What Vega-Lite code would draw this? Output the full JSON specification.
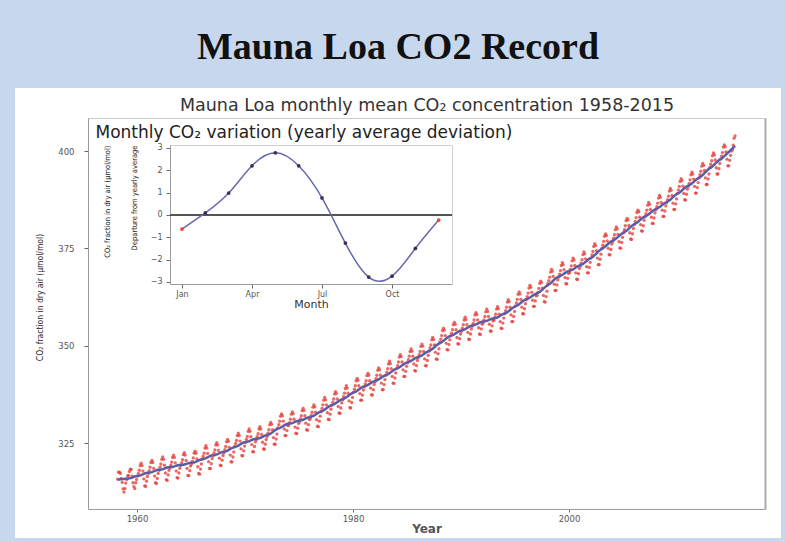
{
"$schema":"https://vega.github.io/schema/vega-lite/v6.json",
"width":766,"height":450,
"autosize":{"type":"none"},
"padding":{"left":15,"top":88,"right":4,"bottom":4},
"background":"#c7d8ee",
"title":{"text":"Mauna Loa CO2 Record","font":"Liberation Serif","fontSize":38,"fontWeight":"bold","color":"#111111","anchor":"middle","frame":"group","offset":21},
"config":{
 "view":{"fill":"#ffffff","stroke":null},
 "axis":{"grid":false,"labelFont":"DejaVu Sans","labelFontSize":8.5,"labelColor":"#555555","tickColor":"#666666","tickSize":4,"domainColor":"#9a9a9a","titleFont":"DejaVu Sans","titleColor":"#333333","titleFontWeight":"normal"}
},
"layer":[
 {
  "data":{"values":[
{"t":1958.21,"c":315.7},{"t":1958.29,"c":317.5},{"t":1958.38,"c":317.5},{"t":1958.46,"c":317.2},{"t":1958.54,"c":315.9},{"t":1958.63,"c":314.9},{"t":1958.71,"c":313.2},{"t":1958.79,"c":312.4},{"t":1958.88,"c":313.3},{"t":1958.96,"c":314.7},
{"t":1959.04,"c":315.6},{"t":1959.13,"c":316.5},{"t":1959.21,"c":316.7},{"t":1959.29,"c":317.7},{"t":1959.38,"c":318.3},{"t":1959.46,"c":318.2},{"t":1959.54,"c":316.5},{"t":1959.63,"c":314.8},{"t":1959.71,"c":313.8},{"t":1959.79,"c":313.3},{"t":1959.88,"c":314.8},{"t":1959.96,"c":315.6},
{"t":1960.04,"c":316.5},{"t":1960.13,"c":317.2},{"t":1960.21,"c":318.0},{"t":1960.29,"c":319.2},{"t":1960.38,"c":319.8},{"t":1960.46,"c":319.2},{"t":1960.54,"c":317.8},{"t":1960.63,"c":315.8},{"t":1960.71,"c":314.0},{"t":1960.79,"c":313.9},{"t":1960.88,"c":315.2},{"t":1960.96,"c":316.4},
{"t":1961.04,"c":317.2},{"t":1961.13,"c":317.9},{"t":1961.21,"c":318.8},{"t":1961.29,"c":320.0},{"t":1961.38,"c":320.5},{"t":1961.46,"c":320.0},{"t":1961.54,"c":318.5},{"t":1961.63,"c":316.5},{"t":1961.71,"c":314.8},{"t":1961.79,"c":314.6},{"t":1961.88,"c":315.9},{"t":1961.96,"c":317.2},
{"t":1962.04,"c":318.0},{"t":1962.13,"c":318.8},{"t":1962.21,"c":319.6},{"t":1962.29,"c":320.8},{"t":1962.38,"c":321.4},{"t":1962.46,"c":320.8},{"t":1962.54,"c":319.3},{"t":1962.63,"c":317.3},{"t":1962.71,"c":315.6},{"t":1962.79,"c":315.4},{"t":1962.88,"c":316.8},{"t":1962.96,"c":318.0},
{"t":1963.04,"c":318.6},{"t":1963.13,"c":319.3},{"t":1963.21,"c":320.1},{"t":1963.29,"c":321.3},{"t":1963.38,"c":321.9},{"t":1963.46,"c":321.3},{"t":1963.54,"c":319.9},{"t":1963.63,"c":317.8},{"t":1963.71,"c":316.1},{"t":1963.79,"c":316.0},{"t":1963.88,"c":317.3},{"t":1963.96,"c":318.5},
{"t":1964.04,"c":319.2},{"t":1964.13,"c":319.9},{"t":1964.21,"c":320.7},{"t":1964.29,"c":322.0},{"t":1964.38,"c":322.5},{"t":1964.46,"c":321.9},{"t":1964.54,"c":320.5},{"t":1964.63,"c":318.5},{"t":1964.71,"c":316.7},{"t":1964.79,"c":316.6},{"t":1964.88,"c":317.9},{"t":1964.96,"c":319.1},
{"t":1965.04,"c":319.6},{"t":1965.13,"c":320.3},{"t":1965.21,"c":321.2},{"t":1965.29,"c":322.4},{"t":1965.38,"c":322.9},{"t":1965.46,"c":322.4},{"t":1965.54,"c":320.9},{"t":1965.63,"c":318.9},{"t":1965.71,"c":317.2},{"t":1965.79,"c":317.0},{"t":1965.88,"c":318.3},{"t":1965.96,"c":319.6},
{"t":1966.04,"c":320.9},{"t":1966.13,"c":321.6},{"t":1966.21,"c":322.4},{"t":1966.29,"c":323.7},{"t":1966.38,"c":324.3},{"t":1966.46,"c":323.7},{"t":1966.54,"c":322.3},{"t":1966.63,"c":320.2},{"t":1966.71,"c":318.5},{"t":1966.79,"c":318.4},{"t":1966.88,"c":319.7},{"t":1966.96,"c":321.0},
{"t":1967.04,"c":321.7},{"t":1967.13,"c":322.4},{"t":1967.21,"c":323.2},{"t":1967.29,"c":324.5},{"t":1967.38,"c":325.1},{"t":1967.46,"c":324.5},{"t":1967.54,"c":323.1},{"t":1967.63,"c":321.1},{"t":1967.71,"c":319.3},{"t":1967.79,"c":319.2},{"t":1967.88,"c":320.6},{"t":1967.96,"c":321.8},
{"t":1968.04,"c":322.5},{"t":1968.13,"c":323.3},{"t":1968.21,"c":324.1},{"t":1968.29,"c":325.3},{"t":1968.38,"c":325.9},{"t":1968.46,"c":325.4},{"t":1968.54,"c":323.9},{"t":1968.63,"c":321.9},{"t":1968.71,"c":320.2},{"t":1968.79,"c":320.1},{"t":1968.88,"c":321.4},{"t":1968.96,"c":322.7},
{"t":1969.04,"c":324.1},{"t":1969.13,"c":324.9},{"t":1969.21,"c":325.7},{"t":1969.29,"c":326.9},{"t":1969.38,"c":327.5},{"t":1969.46,"c":326.9},{"t":1969.54,"c":325.5},{"t":1969.63,"c":323.5},{"t":1969.71,"c":321.8},{"t":1969.79,"c":321.7},{"t":1969.88,"c":323.0},{"t":1969.96,"c":324.2},
{"t":1970.04,"c":325.2},{"t":1970.13,"c":325.9},{"t":1970.21,"c":326.7},{"t":1970.29,"c":328.0},{"t":1970.38,"c":328.6},{"t":1970.46,"c":328.0},{"t":1970.54,"c":326.6},{"t":1970.63,"c":324.6},{"t":1970.71,"c":322.8},{"t":1970.79,"c":322.7},{"t":1970.88,"c":324.1},{"t":1970.96,"c":325.3},
{"t":1971.04,"c":325.8},{"t":1971.13,"c":326.6},{"t":1971.21,"c":327.4},{"t":1971.29,"c":328.6},{"t":1971.38,"c":329.2},{"t":1971.46,"c":328.6},{"t":1971.54,"c":327.2},{"t":1971.63,"c":325.2},{"t":1971.71,"c":323.5},{"t":1971.79,"c":323.4},{"t":1971.88,"c":324.7},{"t":1971.96,"c":325.9},
{"t":1972.04,"c":326.7},{"t":1972.13,"c":327.5},{"t":1972.21,"c":328.4},{"t":1972.29,"c":329.7},{"t":1972.38,"c":330.3},{"t":1972.46,"c":329.8},{"t":1972.54,"c":328.4},{"t":1972.63,"c":326.4},{"t":1972.71,"c":324.7},{"t":1972.79,"c":324.7},{"t":1972.88,"c":326.0},{"t":1972.96,"c":327.3},
{"t":1973.04,"c":328.9},{"t":1973.13,"c":329.7},{"t":1973.21,"c":330.6},{"t":1973.29,"c":331.9},{"t":1973.38,"c":332.5},{"t":1973.46,"c":332.0},{"t":1973.54,"c":330.6},{"t":1973.63,"c":328.6},{"t":1973.71,"c":326.9},{"t":1973.79,"c":326.9},{"t":1973.88,"c":328.2},{"t":1973.96,"c":329.5},
{"t":1974.04,"c":329.5},{"t":1974.13,"c":330.2},{"t":1974.21,"c":331.1},{"t":1974.29,"c":332.4},{"t":1974.38,"c":333.0},{"t":1974.46,"c":332.5},{"t":1974.54,"c":331.1},{"t":1974.63,"c":329.1},{"t":1974.71,"c":327.5},{"t":1974.79,"c":327.4},{"t":1974.88,"c":328.8},{"t":1974.96,"c":330.0},
{"t":1975.04,"c":330.4},{"t":1975.13,"c":331.2},{"t":1975.21,"c":332.0},{"t":1975.29,"c":333.3},{"t":1975.38,"c":333.9},{"t":1975.46,"c":333.4},{"t":1975.54,"c":332.0},{"t":1975.63,"c":330.1},{"t":1975.71,"c":328.4},{"t":1975.79,"c":328.3},{"t":1975.88,"c":329.7},{"t":1975.96,"c":331.0},
{"t":1976.04,"c":331.3},{"t":1976.13,"c":332.1},{"t":1976.21,"c":332.9},{"t":1976.29,"c":334.2},{"t":1976.38,"c":334.8},{"t":1976.46,"c":334.3},{"t":1976.54,"c":332.9},{"t":1976.63,"c":331.0},{"t":1976.71,"c":329.3},{"t":1976.79,"c":329.2},{"t":1976.88,"c":330.6},{"t":1976.96,"c":331.9},
{"t":1977.04,"c":333.1},{"t":1977.13,"c":333.9},{"t":1977.21,"c":334.8},{"t":1977.29,"c":336.0},{"t":1977.38,"c":336.7},{"t":1977.46,"c":336.1},{"t":1977.54,"c":334.8},{"t":1977.63,"c":332.8},{"t":1977.71,"c":331.1},{"t":1977.79,"c":331.0},{"t":1977.88,"c":332.4},{"t":1977.96,"c":333.7},
{"t":1978.04,"c":334.7},{"t":1978.13,"c":335.5},{"t":1978.21,"c":336.3},{"t":1978.29,"c":337.6},{"t":1978.38,"c":338.2},{"t":1978.46,"c":337.7},{"t":1978.54,"c":336.3},{"t":1978.63,"c":334.4},{"t":1978.71,"c":332.7},{"t":1978.79,"c":332.6},{"t":1978.88,"c":334.0},{"t":1978.96,"c":335.3},
{"t":1979.04,"c":336.1},{"t":1979.13,"c":336.9},{"t":1979.21,"c":337.8},{"t":1979.29,"c":339.0},{"t":1979.38,"c":339.7},{"t":1979.46,"c":339.1},{"t":1979.54,"c":337.8},{"t":1979.63,"c":335.8},{"t":1979.71,"c":334.1},{"t":1979.79,"c":334.0},{"t":1979.88,"c":335.4},{"t":1979.96,"c":336.7},
{"t":1980.04,"c":338.0},{"t":1980.13,"c":338.8},{"t":1980.21,"c":339.7},{"t":1980.29,"c":341.0},{"t":1980.38,"c":341.6},{"t":1980.46,"c":341.1},{"t":1980.54,"c":339.7},{"t":1980.63,"c":337.7},{"t":1980.71,"c":336.0},{"t":1980.79,"c":336.0},{"t":1980.88,"c":337.3},{"t":1980.96,"c":338.6},
{"t":1981.04,"c":339.4},{"t":1981.13,"c":340.2},{"t":1981.21,"c":341.0},{"t":1981.29,"c":342.3},{"t":1981.38,"c":342.9},{"t":1981.46,"c":342.4},{"t":1981.54,"c":341.0},{"t":1981.63,"c":339.1},{"t":1981.71,"c":337.4},{"t":1981.79,"c":337.3},{"t":1981.88,"c":338.7},{"t":1981.96,"c":340.0},
{"t":1982.04,"c":340.7},{"t":1982.13,"c":341.5},{"t":1982.21,"c":342.4},{"t":1982.29,"c":343.7},{"t":1982.38,"c":344.3},{"t":1982.46,"c":343.8},{"t":1982.54,"c":342.4},{"t":1982.63,"c":340.4},{"t":1982.71,"c":338.7},{"t":1982.79,"c":338.7},{"t":1982.88,"c":340.0},{"t":1982.96,"c":341.3},
{"t":1983.04,"c":342.4},{"t":1983.13,"c":343.2},{"t":1983.21,"c":344.1},{"t":1983.29,"c":345.3},{"t":1983.38,"c":346.0},{"t":1983.46,"c":345.4},{"t":1983.54,"c":344.1},{"t":1983.63,"c":342.1},{"t":1983.71,"c":340.4},{"t":1983.79,"c":340.3},{"t":1983.88,"c":341.7},{"t":1983.96,"c":343.0},
{"t":1984.04,"c":344.1},{"t":1984.13,"c":344.9},{"t":1984.21,"c":345.8},{"t":1984.29,"c":347.1},{"t":1984.38,"c":347.7},{"t":1984.46,"c":347.2},{"t":1984.54,"c":345.8},{"t":1984.63,"c":343.8},{"t":1984.71,"c":342.1},{"t":1984.79,"c":342.1},{"t":1984.88,"c":343.4},{"t":1984.96,"c":344.7},
{"t":1985.04,"c":345.6},{"t":1985.13,"c":346.4},{"t":1985.21,"c":347.3},{"t":1985.29,"c":348.5},{"t":1985.38,"c":349.2},{"t":1985.46,"c":348.6},{"t":1985.54,"c":347.3},{"t":1985.63,"c":345.3},{"t":1985.71,"c":343.6},{"t":1985.79,"c":343.5},{"t":1985.88,"c":344.9},{"t":1985.96,"c":346.2},
{"t":1986.04,"c":346.9},{"t":1986.13,"c":347.7},{"t":1986.21,"c":348.5},{"t":1986.29,"c":349.8},{"t":1986.38,"c":350.4},{"t":1986.46,"c":349.9},{"t":1986.54,"c":348.5},{"t":1986.63,"c":346.6},{"t":1986.71,"c":344.9},{"t":1986.79,"c":344.8},{"t":1986.88,"c":346.2},{"t":1986.96,"c":347.5},
{"t":1987.04,"c":348.6},{"t":1987.13,"c":349.4},{"t":1987.21,"c":350.2},{"t":1987.29,"c":351.5},{"t":1987.38,"c":352.1},{"t":1987.46,"c":351.6},{"t":1987.54,"c":350.2},{"t":1987.63,"c":348.3},{"t":1987.71,"c":346.6},{"t":1987.79,"c":346.5},{"t":1987.88,"c":347.9},{"t":1987.96,"c":349.2},
{"t":1988.04,"c":351.0},{"t":1988.13,"c":351.7},{"t":1988.21,"c":352.6},{"t":1988.29,"c":353.9},{"t":1988.38,"c":354.5},{"t":1988.46,"c":354.0},{"t":1988.54,"c":352.6},{"t":1988.63,"c":350.6},{"t":1988.71,"c":349.0},{"t":1988.79,"c":348.9},{"t":1988.88,"c":350.3},{"t":1988.96,"c":351.5},
{"t":1989.04,"c":352.5},{"t":1989.13,"c":353.2},{"t":1989.21,"c":354.1},{"t":1989.29,"c":355.4},{"t":1989.38,"c":356.0},{"t":1989.46,"c":355.5},{"t":1989.54,"c":354.1},{"t":1989.63,"c":352.1},{"t":1989.71,"c":350.5},{"t":1989.79,"c":350.4},{"t":1989.88,"c":351.8},{"t":1989.96,"c":353.0},
{"t":1990.04,"c":353.7},{"t":1990.13,"c":354.5},{"t":1990.21,"c":355.4},{"t":1990.29,"c":356.6},{"t":1990.38,"c":357.3},{"t":1990.46,"c":356.7},{"t":1990.54,"c":355.4},{"t":1990.63,"c":353.4},{"t":1990.71,"c":351.7},{"t":1990.79,"c":351.6},{"t":1990.88,"c":353.0},{"t":1990.96,"c":354.3},
{"t":1991.04,"c":355.0},{"t":1991.13,"c":355.7},{"t":1991.21,"c":356.6},{"t":1991.29,"c":357.9},{"t":1991.38,"c":358.5},{"t":1991.46,"c":358.0},{"t":1991.54,"c":356.6},{"t":1991.63,"c":354.6},{"t":1991.71,"c":353.0},{"t":1991.79,"c":352.9},{"t":1991.88,"c":354.3},{"t":1991.96,"c":355.5},
{"t":1992.04,"c":355.8},{"t":1992.13,"c":356.6},{"t":1992.21,"c":357.5},{"t":1992.29,"c":358.7},{"t":1992.38,"c":359.4},{"t":1992.46,"c":358.8},{"t":1992.54,"c":357.5},{"t":1992.63,"c":355.5},{"t":1992.71,"c":353.8},{"t":1992.79,"c":353.7},{"t":1992.88,"c":355.1},{"t":1992.96,"c":356.4},
{"t":1993.04,"c":356.5},{"t":1993.13,"c":357.3},{"t":1993.21,"c":358.1},{"t":1993.29,"c":359.4},{"t":1993.38,"c":360.0},{"t":1993.46,"c":359.5},{"t":1993.54,"c":358.1},{"t":1993.63,"c":356.2},{"t":1993.71,"c":354.5},{"t":1993.79,"c":354.4},{"t":1993.88,"c":355.8},{"t":1993.96,"c":357.1},
{"t":1994.04,"c":358.2},{"t":1994.13,"c":359.0},{"t":1994.21,"c":359.9},{"t":1994.29,"c":361.2},{"t":1994.38,"c":361.8},{"t":1994.46,"c":361.3},{"t":1994.54,"c":359.9},{"t":1994.63,"c":357.9},{"t":1994.71,"c":356.2},{"t":1994.79,"c":356.2},{"t":1994.88,"c":357.5},{"t":1994.96,"c":358.8},
{"t":1995.04,"c":360.2},{"t":1995.13,"c":361.0},{"t":1995.21,"c":361.9},{"t":1995.29,"c":363.2},{"t":1995.38,"c":363.8},{"t":1995.46,"c":363.3},{"t":1995.54,"c":361.9},{"t":1995.63,"c":359.9},{"t":1995.71,"c":358.2},{"t":1995.79,"c":358.2},{"t":1995.88,"c":359.5},{"t":1995.96,"c":360.8},
{"t":1996.04,"c":361.8},{"t":1996.13,"c":362.6},{"t":1996.21,"c":363.5},{"t":1996.29,"c":364.8},{"t":1996.38,"c":365.5},{"t":1996.46,"c":365.0},{"t":1996.54,"c":363.7},{"t":1996.63,"c":361.7},{"t":1996.71,"c":360.1},{"t":1996.79,"c":360.1},{"t":1996.88,"c":361.5},{"t":1996.96,"c":362.8},
{"t":1997.04,"c":362.9},{"t":1997.13,"c":363.7},{"t":1997.21,"c":364.7},{"t":1997.29,"c":366.0},{"t":1997.38,"c":366.6},{"t":1997.46,"c":366.2},{"t":1997.54,"c":364.8},{"t":1997.63,"c":362.9},{"t":1997.71,"c":361.3},{"t":1997.79,"c":361.2},{"t":1997.88,"c":362.6},{"t":1997.96,"c":364.0},
{"t":1998.04,"c":365.9},{"t":1998.13,"c":366.7},{"t":1998.21,"c":367.6},{"t":1998.29,"c":368.9},{"t":1998.38,"c":369.6},{"t":1998.46,"c":369.1},{"t":1998.54,"c":367.8},{"t":1998.63,"c":365.8},{"t":1998.71,"c":364.2},{"t":1998.79,"c":364.2},{"t":1998.88,"c":365.6},{"t":1998.96,"c":366.9},
{"t":1999.04,"c":367.6},{"t":1999.13,"c":368.4},{"t":1999.21,"c":369.3},{"t":1999.29,"c":370.6},{"t":1999.38,"c":371.3},{"t":1999.46,"c":370.8},{"t":1999.54,"c":369.5},{"t":1999.63,"c":367.5},{"t":1999.71,"c":365.9},{"t":1999.79,"c":365.9},{"t":1999.88,"c":367.3},{"t":1999.96,"c":368.6},
{"t":2000.04,"c":368.7},{"t":2000.13,"c":369.6},{"t":2000.21,"c":370.5},{"t":2000.29,"c":371.8},{"t":2000.38,"c":372.5},{"t":2000.46,"c":372.0},{"t":2000.54,"c":370.6},{"t":2000.63,"c":368.7},{"t":2000.71,"c":367.1},{"t":2000.79,"c":367.0},{"t":2000.88,"c":368.5},{"t":2000.96,"c":369.8},
{"t":2001.04,"c":370.4},{"t":2001.13,"c":371.2},{"t":2001.21,"c":372.1},{"t":2001.29,"c":373.4},{"t":2001.38,"c":374.1},{"t":2001.46,"c":373.6},{"t":2001.54,"c":372.3},{"t":2001.63,"c":370.3},{"t":2001.71,"c":368.7},{"t":2001.79,"c":368.7},{"t":2001.88,"c":370.1},{"t":2001.96,"c":371.4},
{"t":2002.04,"c":372.5},{"t":2002.13,"c":373.3},{"t":2002.21,"c":374.2},{"t":2002.29,"c":375.5},{"t":2002.38,"c":376.2},{"t":2002.46,"c":375.7},{"t":2002.54,"c":374.4},{"t":2002.63,"c":372.5},{"t":2002.71,"c":370.8},{"t":2002.79,"c":370.8},{"t":2002.88,"c":372.2},{"t":2002.96,"c":373.5},
{"t":2003.04,"c":375.0},{"t":2003.13,"c":375.8},{"t":2003.21,"c":376.8},{"t":2003.29,"c":378.1},{"t":2003.38,"c":378.7},{"t":2003.46,"c":378.3},{"t":2003.54,"c":376.9},{"t":2003.63,"c":375.0},{"t":2003.71,"c":373.4},{"t":2003.79,"c":373.3},{"t":2003.88,"c":374.7},{"t":2003.96,"c":376.1},
{"t":2004.04,"c":376.7},{"t":2004.13,"c":377.6},{"t":2004.21,"c":378.5},{"t":2004.29,"c":379.8},{"t":2004.38,"c":380.5},{"t":2004.46,"c":380.0},{"t":2004.54,"c":378.6},{"t":2004.63,"c":376.7},{"t":2004.71,"c":375.1},{"t":2004.79,"c":375.0},{"t":2004.88,"c":376.5},{"t":2004.96,"c":377.8},
{"t":2005.04,"c":379.0},{"t":2005.13,"c":379.8},{"t":2005.21,"c":380.8},{"t":2005.29,"c":382.1},{"t":2005.38,"c":382.7},{"t":2005.46,"c":382.3},{"t":2005.54,"c":380.9},{"t":2005.63,"c":379.0},{"t":2005.71,"c":377.4},{"t":2005.79,"c":377.3},{"t":2005.88,"c":378.7},{"t":2005.96,"c":380.1},
{"t":2006.04,"c":381.1},{"t":2006.13,"c":381.9},{"t":2006.21,"c":382.9},{"t":2006.29,"c":384.2},{"t":2006.38,"c":384.8},{"t":2006.46,"c":384.4},{"t":2006.54,"c":383.0},{"t":2006.63,"c":381.1},{"t":2006.71,"c":379.5},{"t":2006.79,"c":379.4},{"t":2006.88,"c":380.8},{"t":2006.96,"c":382.2},
{"t":2007.04,"c":383.1},{"t":2007.13,"c":383.9},{"t":2007.21,"c":384.8},{"t":2007.29,"c":386.1},{"t":2007.38,"c":386.8},{"t":2007.46,"c":386.3},{"t":2007.54,"c":385.0},{"t":2007.63,"c":383.0},{"t":2007.71,"c":381.4},{"t":2007.79,"c":381.4},{"t":2007.88,"c":382.8},{"t":2007.96,"c":384.1},
{"t":2008.04,"c":384.9},{"t":2008.13,"c":385.7},{"t":2008.21,"c":386.6},{"t":2008.29,"c":387.9},{"t":2008.38,"c":388.6},{"t":2008.46,"c":388.1},{"t":2008.54,"c":386.8},{"t":2008.63,"c":384.8},{"t":2008.71,"c":383.2},{"t":2008.79,"c":383.2},{"t":2008.88,"c":384.6},{"t":2008.96,"c":385.9},
{"t":2009.04,"c":386.7},{"t":2009.13,"c":387.5},{"t":2009.21,"c":388.4},{"t":2009.29,"c":389.7},{"t":2009.38,"c":390.4},{"t":2009.46,"c":389.9},{"t":2009.54,"c":388.6},{"t":2009.63,"c":386.6},{"t":2009.71,"c":385.0},{"t":2009.79,"c":385.0},{"t":2009.88,"c":386.4},{"t":2009.96,"c":387.7},
{"t":2010.04,"c":389.1},{"t":2010.13,"c":390.0},{"t":2010.21,"c":390.9},{"t":2010.29,"c":392.2},{"t":2010.38,"c":392.9},{"t":2010.46,"c":392.4},{"t":2010.54,"c":391.0},{"t":2010.63,"c":389.1},{"t":2010.71,"c":387.5},{"t":2010.79,"c":387.4},{"t":2010.88,"c":388.9},{"t":2010.96,"c":390.2},
{"t":2011.04,"c":390.9},{"t":2011.13,"c":391.7},{"t":2011.21,"c":392.6},{"t":2011.29,"c":393.9},{"t":2011.38,"c":394.6},{"t":2011.46,"c":394.1},{"t":2011.54,"c":392.8},{"t":2011.63,"c":390.9},{"t":2011.71,"c":389.2},{"t":2011.79,"c":389.2},{"t":2011.88,"c":390.6},{"t":2011.96,"c":391.9},
{"t":2012.04,"c":393.1},{"t":2012.13,"c":393.9},{"t":2012.21,"c":394.8},{"t":2012.29,"c":396.1},{"t":2012.38,"c":396.8},{"t":2012.46,"c":396.3},{"t":2012.54,"c":395.0},{"t":2012.63,"c":393.1},{"t":2012.71,"c":391.4},{"t":2012.79,"c":391.4},{"t":2012.88,"c":392.8},{"t":2012.96,"c":394.1},
{"t":2013.04,"c":395.8},{"t":2013.13,"c":396.6},{"t":2013.21,"c":397.5},{"t":2013.29,"c":398.8},{"t":2013.38,"c":399.5},{"t":2013.46,"c":399.0},{"t":2013.54,"c":397.7},{"t":2013.63,"c":395.7},{"t":2013.71,"c":394.1},{"t":2013.79,"c":394.1},{"t":2013.88,"c":395.5},{"t":2013.96,"c":396.8},
{"t":2014.04,"c":397.9},{"t":2014.13,"c":398.7},{"t":2014.21,"c":399.6},{"t":2014.29,"c":401.0},{"t":2014.38,"c":401.6},{"t":2014.46,"c":401.1},{"t":2014.54,"c":399.8},{"t":2014.63,"c":397.9},{"t":2014.71,"c":396.2},{"t":2014.79,"c":396.2},{"t":2014.88,"c":397.6},{"t":2014.96,"c":398.9},
{"t":2015.04,"c":400.0},{"t":2015.13,"c":400.3},{"t":2015.21,"c":401.5},{"t":2015.29,"c":403.3},{"t":2015.38,"c":403.9}
  ]},
  "layer":[
   {"mark":{"type":"point","filled":true,"size":11,"color":"#e4433c","opacity":0.8},
    "encoding":{
     "x":{"field":"t","type":"quantitative","scale":{"domain":[1955.46,2018.15],"range":[73,750],"nice":false,"zero":false},
          "axis":{"orient":"bottom","offset":-29,"values":[1960,1980,2000],"format":"d","labelPadding":2,"tickSize":3,"title":"Year","titleFontSize":12,"titleFontWeight":"bold","titleColor":"#555555","titlePadding":1}},
     "y":{"field":"c","type":"quantitative","scale":{"domain":[308.05,408.48],"range":[421,30],"nice":false,"zero":false},
          "axis":{"orient":"left","offset":-73,"values":[325,350,375,400],"labelPadding":10,"title":"CO₂ fraction in dry air (μmol/mol)","titleFont":"DejaVu Sans Condensed","titleFontSize":8.5,"titleColor":"#222222","titleX":-44,"titleY":209,"titleAngle":-90,"titleBaseline":"bottom","titleAlign":"center"}}
    }},
   {"transform":[{"loess":"c","on":"t","bandwidth":0.05}],
    "mark":{"type":"line","color":"#5b5ca6","strokeWidth":2.5},
    "encoding":{
     "x":{"field":"t","type":"quantitative","axis":{"orient":"top","offset":-30,"labels":false,"ticks":false,"domainColor":"#cccccc","title":"Mauna Loa monthly mean CO₂ concentration 1958-2015","titleFontSize":17.5,"titleColor":"#333333","titlePadding":4}},
     "y":{"field":"c","type":"quantitative","axis":{"orient":"right","offset":-16,"labels":false,"ticks":false,"domainColor":"#aaaaaa","domainWidth":2,"title":null}}
    }}
  ],
  "resolve":{"axis":{"x":"independent","y":"independent"}}
 },
 {
  "data":{"values":[
   {"m":1,"d":-0.63},{"m":2,"d":0.09},{"m":3,"d":0.98},{"m":4,"d":2.2},{"m":5,"d":2.78},{"m":6,"d":2.2},
   {"m":7,"d":0.76},{"m":8,"d":-1.26},{"m":9,"d":-2.78},{"m":10,"d":-2.74},{"m":11,"d":-1.5},{"m":12,"d":-0.23}
  ]},
  "layer":[
   {"mark":{"type":"rule","color":"#555555","strokeWidth":1.5},
    "encoding":{
      "x":{"datum":0.486,"type":"quantitative","axis":{"orient":"top","offset":-57,"labels":false,"ticks":false,"domainColor":"#d0d0d0","title":"Monthly CO₂ variation (yearly average deviation)","titleFontSize":17,"titleColor":"#222222","titleX":80,"titleAlign":"left","titlePadding":4}},
      "x2":{"datum":12.57},
      "y":{"datum":0,"type":"quantitative","axis":{"orient":"right","offset":-329,"labels":false,"ticks":false,"domainColor":"#d0d0d0","title":null}}
    }},
   {"mark":{"type":"line","interpolate":"natural","color":"#6668b0","strokeWidth":1.5},
    "encoding":{
      "x":{"field":"m","type":"quantitative","scale":{"domain":[0.486,12.57],"range":[155,437],"nice":false,"zero":false},
           "axis":{"orient":"bottom","offset":-254,"values":[1,4,7,10],"labelExpr":"datum.value == 1 ? 'Jan' : datum.value == 4 ? 'Apr' : datum.value == 7 ? 'Jul' : 'Oct'","tickSize":4,"labelPadding":2,"labelFontSize":8,"title":"Month","titleFontSize":11,"titlePadding":0}},
      "y":{"field":"d","type":"quantitative","scale":{"domain":[-3.09,3.13],"range":[196,57],"nice":false,"zero":false},
           "axis":{"orient":"left","offset":-155,"values":[-3,-2,-1,0,1,2,3],"tickSize":4,"labelPadding":4,"labelFontSize":8,"title":"Departure from yearly average","titleFont":"DejaVu Sans Condensed","titleFontSize":7.5,"titleAnchor":"end","titleX":-36,"titleAngle":-90,"titleBaseline":"middle","titleColor":"#222222"}}
    }},
   {"mark":{"type":"point","filled":true,"size":14,"opacity":1},
    "encoding":{
      "x":{"field":"m","type":"quantitative","axis":null},
      "y":{"field":"d","type":"quantitative","axis":{"orient":"left","offset":-155,"labels":false,"ticks":false,"domain":false,"title":"CO₂ fraction in dry air (μmol/mol)","titleFont":"DejaVu Sans Condensed","titleFontSize":7.5,"titleAnchor":"end","titleX":-63,"titleAngle":-90,"titleBaseline":"middle","titleColor":"#222222"}},
      "color":{"condition":{"test":"datum.m == 1 || datum.m == 12","value":"#e4433c"},"value":"#3a2f55"}
    }}
  ],
  "resolve":{"axis":{"x":"independent","y":"independent"}}
 }
],
"resolve":{"scale":{"x":"independent","y":"independent"},"axis":{"x":"independent","y":"independent"}}
}
